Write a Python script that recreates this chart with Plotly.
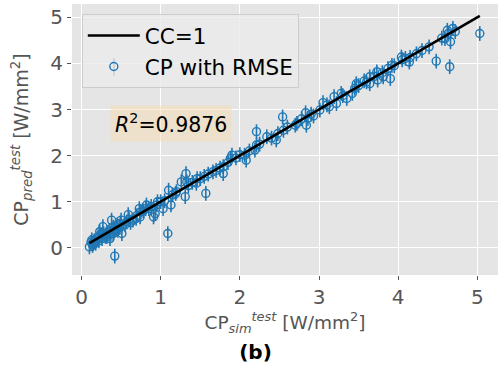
import plotly.graph_objects as go

# Simulated (x) vs predicted (y) CP values
cp_sim = [5.03, 4.65, 4.48, 4.39, 4.69, 4.63, 4.59, 4.66, 4.72, 4.23, 4.14, 4.09, 4.04, 3.90, 3.92,
          3.87, 3.81, 3.74, 3.73, 3.64, 3.64, 3.57, 3.47, 3.45, 3.42, 3.35, 3.28, 3.19, 3.22, 3.13,
          3.05, 3.01, 2.93, 2.86, 2.83, 2.84, 2.72, 2.70, 2.54, 2.48, 2.46, 2.34, 2.21, 2.21, 2.19,
          2.08, 2.06, 1.90, 1.88, 1.79, 1.79, 1.66, 1.46, 1.45, 1.57, 1.32, 1.33, 1.26, 1.31, 1.19,
          1.10, 1.13, 1.09, 1.03, 0.96, 0.91, 0.93, 0.82, 0.81, 0.73, 0.74, 0.69, 0.65, 0.59, 0.57,
          0.51, 0.49, 0.42, 0.38, 0.42, 0.35, 0.32, 0.27, 0.28, 0.21, 0.17, 0.13, 0.10, 0.15, 0.23,
          0.46, 0.40, 0.36,
          0.12, 0.14, 0.16, 0.18, 0.20, 0.22, 0.25, 0.26, 0.30, 0.33, 0.37, 0.40, 0.44, 0.45, 0.48,
          0.50, 0.55, 0.60, 0.62, 0.70, 0.75, 0.78, 0.85, 0.88, 0.95, 1.00, 1.05, 1.15, 1.20, 1.35,
          1.40, 1.50, 1.55, 1.60, 1.70, 1.75, 1.85, 1.95, 2.00, 2.12, 2.25, 2.40, 2.55, 2.60, 2.78,
          2.90, 3.10, 3.30, 3.50, 3.60, 3.70, 3.80, 3.95, 4.05, 4.15, 4.30, 4.55, 4.62]
cp_pred = [4.65, 3.93, 4.05, 4.36, 4.76, 4.65, 4.54, 4.47, 4.69, 4.21, 4.03, 4.11, 4.14, 3.67, 3.96,
           3.89, 3.71, 3.64, 3.82, 3.56, 3.71, 3.62, 3.56, 3.46, 3.35, 3.24, 3.35, 3.28, 3.13, 3.06,
           3.15, 2.99, 2.86, 2.81, 2.93, 2.66, 2.70, 2.66, 2.84, 2.48, 2.34, 2.41, 2.52, 2.23, 2.12,
           1.90, 2.01, 2.01, 1.94, 1.76, 1.61, 1.65, 1.50, 1.40, 1.18, 1.61, 1.43, 1.43, 1.11, 1.18,
           1.25, 0.93, 0.31, 0.85, 1.00, 0.67, 0.74, 0.93, 0.85, 0.85, 0.67, 0.64, 0.60, 0.72, 0.56,
           0.31, 0.53, -0.18, 0.60, 0.38, 0.38, 0.24, 0.46, 0.31, 0.24, 0.13, 0.17, 0.02, 0.09, 0.35,
           0.38, 0.31, 0.20,
           0.12, 0.05, 0.15, 0.10, 0.20, 0.15, 0.27, 0.20, 0.25, 0.33, 0.30, 0.45, 0.40, 0.50, 0.44,
           0.60, 0.50, 0.62, 0.55, 0.70, 0.78, 0.80, 0.85, 0.90, 0.93, 1.00, 1.02, 1.15, 1.22, 1.35,
           1.42, 1.50, 1.55, 1.60, 1.68, 1.73, 1.85, 1.95, 2.02, 2.10, 2.25, 2.38, 2.55, 2.62, 2.80,
           2.90, 3.10, 3.30, 3.52, 3.60, 3.72, 3.80, 3.95, 4.08, 4.13, 4.28, 4.55, 4.72]
rmse = [0.16] * len(cp_sim)

line_x = [0.10, 5.03]
line_y = [0.10, 5.03]

x_ticks = [0, 1, 2, 3, 4, 5]
y_ticks = [0, 1, 2, 3, 4, 5]

r2_text = "<i>R</i><sup>2</sup>=0.9876"

blue = "#1f77b4"
fig = go.Figure()
fig.add_trace(go.Scatter(
    x=cp_sim, y=cp_pred, mode="markers", name="CP with RMSE", legendrank=2,
    marker=dict(symbol="circle-open", size=8, color=blue, line=dict(width=1.4, color=blue)),
    error_y=dict(type="data", array=rmse, visible=True, color=blue, thickness=1.6, width=0),
))
fig.add_trace(go.Scatter(
    x=line_x, y=line_y, mode="lines", name="CC=1", legendrank=1,
    line=dict(color="black", width=2.6),
))

axis_common = dict(
    showgrid=True, gridcolor="white", gridwidth=1.2, zeroline=False, showline=False,
    ticks="outside", ticklen=4, tickwidth=1, tickcolor="#555555",
    tickfont=dict(family="DejaVu Sans", size=20, color="#555555"),
)
fig.update_xaxes(range=[-0.12, 5.26], tickvals=x_ticks, **axis_common,
                 title=dict(text="CP<sub><i>sim</i></sub><sup><i>test</i></sup> [W/mm<sup>2</sup>]",
                            font=dict(family="DejaVu Sans", size=18.5, color="#555555"), standoff=3))
fig.update_yaxes(range=[-0.59, 5.29], tickvals=y_ticks, **axis_common,
                 title=dict(text="CP<sub><i>pred</i></sub><sup><i>test</i></sup> [W/mm<sup>2</sup>]",
                            font=dict(family="DejaVu Sans", size=19, color="#555555"), standoff=16))

fig.add_annotation(x=1.13, y=2.70, xref="x", yref="y", text=r2_text, showarrow=False,
                   font=dict(family="DejaVu Sans", size=20.5, color="black"),
                   bgcolor="rgba(245,222,179,0.5)", borderpad=4)

# error-bar stroke for the legend symbol (decoration)
fig.add_shape(type="line", xref="paper", yref="paper", x0=0.0986, x1=0.0986, y0=0.735, y1=0.800,
              line=dict(color=blue, width=1.6))

fig.update_layout(
    width=501, height=372,
    margin=dict(l=72, r=3, t=4, b=97),
    paper_bgcolor="white", plot_bgcolor="#E5E5E5",
    font=dict(family="DejaVu Sans"),
    title=dict(text="<b>(b)</b>", x=0.51, xref="container", y=0.054, yref="container",
               xanchor="center", yanchor="middle",
               font=dict(family="DejaVu Sans", size=20, color="black")),
    legend=dict(x=0.023, y=0.963, xanchor="left", yanchor="top",
                bgcolor="rgba(235,235,235,0.8)", bordercolor="#CCCCCC", borderwidth=1,
                font=dict(family="DejaVu Sans", size=21.5, color="black"),
                itemwidth=52),
    showlegend=True,
)

fig.write_html("out.html")
